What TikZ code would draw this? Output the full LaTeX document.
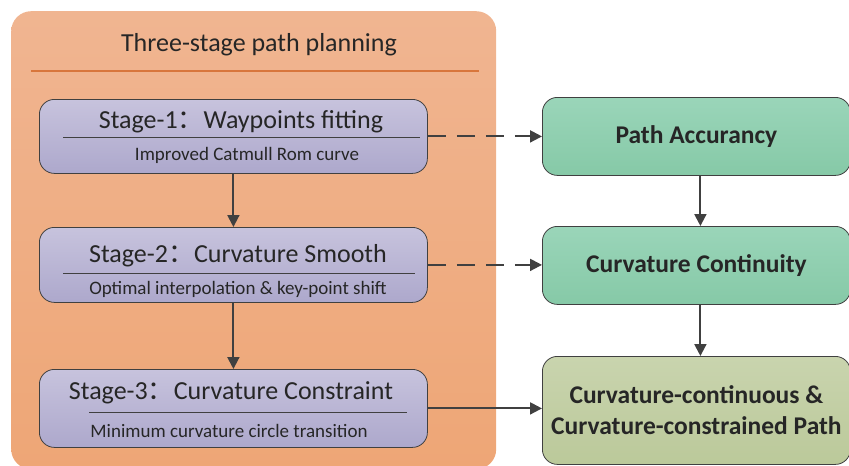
\documentclass[tikz,border=0pt]{standalone}
\usepackage{fontspec}
\setmainfont{Carlito}
\newfontfamily\cjk{Noto Sans CJK SC}
\usetikzlibrary{arrows.meta}
\definecolor{paneltop}{HTML}{F0B591}
\definecolor{panelbot}{HTML}{EEA676}
\definecolor{panelrule}{HTML}{D8763C}
\definecolor{lavtop}{HTML}{C7C3DD}
\definecolor{lavbot}{HTML}{ADA8CC}
\definecolor{greentop}{HTML}{9AD5B9}
\definecolor{greenbot}{HTML}{86C9A7}
\definecolor{olivetop}{HTML}{C9D4AE}
\definecolor{olivebot}{HTML}{BBC99A}
\definecolor{edgegray}{HTML}{404040}
\definecolor{inkgray}{HTML}{262626}
\tikzset{%
  panel/.style    = {shape=rectangle, rounded corners=20pt, anchor=north west,%
                     top color=paneltop, bottom color=panelbot,%
                     minimum width=485pt, minimum height=458pt},%
  stagebox/.style = {shape=rectangle, rounded corners=15pt, anchor=north west,%
                     draw=edgegray, line width=0.8pt,%
                     top color=lavtop, bottom color=lavbot,%
                     minimum width=388pt},%
  resultbox/.style= {shape=rectangle, rounded corners=15pt, anchor=north west,%
                     draw=edgegray, line width=0.8pt,%
                     top color=greentop, bottom color=greenbot,%
                     minimum width=308pt, minimum height=78pt,%
                     font=\fontsize{25.5}{30}\selectfont\bfseries, text=inkgray},%
  stagetitle/.style = {font=\fontsize{26}{30}\selectfont, text=inkgray, inner sep=0pt},%
  stagesub/.style   = {font=\fontsize{19}{22}\selectfont, text=inkgray, inner sep=0pt},%
  flow/.style     = {draw=edgegray, line width=2pt,%
                     -{Triangle[length=12pt,width=12pt]}},%
  hint/.style     = {flow, dash pattern=on 18pt off 11pt}%
}
\begin{document}
\begin{tikzpicture}[x=1pt,y=-1pt]
\useasboundingbox (0,0) rectangle (849,466);
% left panel
\node[panel] (panel) at (11,11) {};
\node[font=\fontsize{26}{30}\selectfont, text=inkgray] (ptitle) at (259,45) {Three-stage path planning};
\draw[panelrule, line width=1.1pt] (31,71) -- (479,71);
% stage boxes
\node[stagebox, minimum height=74pt] (s1) at (39,99) {};
\node[stagebox, minimum height=75pt] (s2) at (39,227) {};
\node[stagebox, minimum height=78pt] (s3) at (39,369) {};
\node[stagetitle] (s1t) at (241,122) {Stage-1{\cjk ：}Waypoints fitting};
\node[stagesub]   (s1s) at (247,155) {Improved Catmull Rom curve};
\node[stagetitle] (s2t) at (238,256) {Stage-2{\cjk ：}Curvature Smooth};
\node[stagesub]   (s2s) at (238,289) {Optimal interpolation \& key-point shift};
\node[stagetitle] (s3t) at (231,393) {Stage-3{\cjk ：}Curvature Constraint};
\node[stagesub]   (s3s) at (229,431) {Minimum curvature circle transition};
\draw[edgegray, line width=0.7pt] (63,137) -- (420,137);
\draw[edgegray, line width=0.7pt] (63,273) -- (415,273);
\draw[edgegray, line width=0.7pt] (89,412) -- (407,412);
% result boxes
\node[resultbox] (r1) at (542,97) {Path Accurancy};
\node[resultbox] (r2) at (542,226) {Curvature Continuity};
\node[resultbox, minimum height=108pt, align=center,%
      top color=olivetop, bottom color=olivebot] (r3) at (542,356)%
      {Curvature-continuous \&\\[1pt]Curvature-constrained Path};
% connectors
\draw[flow] (s1.south) -- (s2.north);
\draw[flow] (s2.south) -- (s3.north);
\draw[flow] ([xshift=4pt]r1.south) -- ([xshift=4pt]r2.north);
\draw[flow] ([xshift=4pt]r2.south) -- ([xshift=4pt]r3.north);
\draw[hint] (s1.east) -- (r1.west);
\draw[hint] (s2.east) -- (s2.east -| r2.west);
\draw[flow] (s3.east) -- (s3.east -| r3.west);
\end{tikzpicture}
\end{document}
